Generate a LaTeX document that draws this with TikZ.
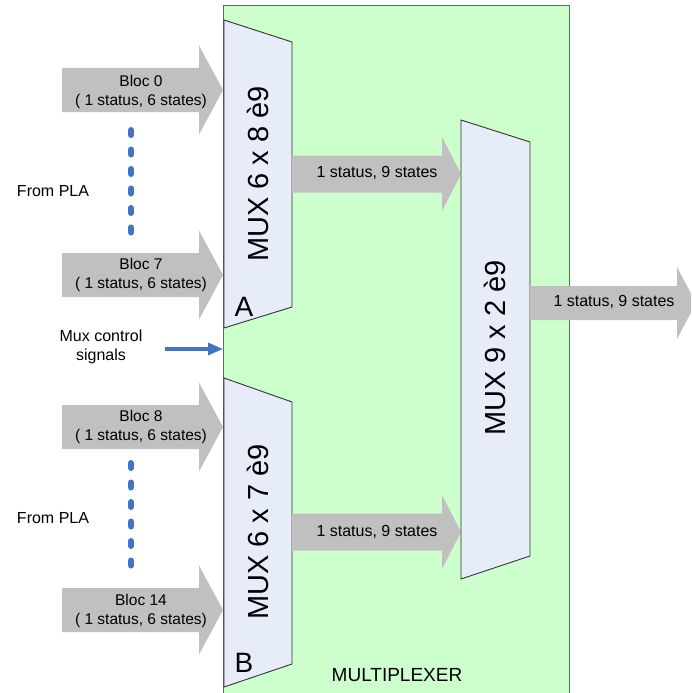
\documentclass[tikz,border=0pt]{standalone}
\usepackage{fontspec}
\setmainfont{Liberation Sans}
\usetikzlibrary{arrows.meta,calc}
\definecolor{plxgreen}{RGB}{204,255,204}
\definecolor{muxfill}{RGB}{230,236,248}
\definecolor{fatgray}{RGB}{192,192,192}
\definecolor{ctlblue}{RGB}{68,114,196}
% fat arrow: x start, x tip, y, body half, head half, head length
\newcommand{\fatarrow}[6]{%
  \fill[fatgray] (#1,#3-#4) -- (#2-#6,#3-#4) -- (#2-#6,#3-#5) -- (#2,#3)
    -- (#2-#6,#3+#5) -- (#2-#6,#3+#4) -- (#1,#3+#4) -- cycle;}
\tikzset{
  >=Stealth,
  mplxbox/.style={draw=black!60,fill=plxgreen,line width=0.9pt,inner sep=0pt},
  muxbox/.style={draw=black!80,fill=muxfill,line width=0.9pt},
  muxtext/.style={rotate=90,font=\fontsize{29}{32}\selectfont,inner sep=0pt},
  tagtext/.style={font=\fontsize{28}{30}\selectfont,inner sep=0pt},
  bloctext/.style={align=center,font=\fontsize{15.5}{19}\selectfont,inner sep=0pt},
  outtext/.style={font=\fontsize{16}{19}\selectfont,inner sep=0pt},
  sidetext/.style={align=center,font=\fontsize{16}{19}\selectfont,inner sep=0pt},
  bluedots/.style={ctlblue,line width=6pt,line cap=round,dash pattern=on 5pt off 14.5pt},
  ctlarrow/.style={ctlblue,line width=3.2pt,-{Triangle[length=15pt,width=12pt]}}
}
\begin{document}
\begin{tikzpicture}[x=1pt,y=-1pt]
\useasboundingbox (0,0) rectangle (691,693);
\clip (0,0) rectangle (691,693);
% multiplexer area
\node[mplxbox,anchor=north west,minimum width=346,minimum height=700](mplx) at (223,5) {};
\node[font=\fontsize{19}{22}\selectfont](plx) at (397,675) {MULTIPLEXER};
% input blocks
\fatarrow{62}{223}{90}{22}{44.5}{24}
\fatarrow{62}{223}{275}{22}{44.5}{24}
\fatarrow{62}{223}{427}{22}{44.5}{24}
\fatarrow{62}{223}{610}{22}{44.5}{24}
\node[bloctext](b0) at (141,91.5) {Bloc 0\\( 1 status, 6 states)};
\node[bloctext](b7) at (141,274.5) {Bloc 7\\( 1 status, 6 states)};
\node[bloctext](b8) at (141,427) {Bloc 8\\( 1 status, 6 states)};
\node[bloctext](b14) at (141,610.5) {Bloc 14\\( 1 status, 6 states)};
\draw[bluedots] (131,130) -- (131,234);
\draw[bluedots] (131,463) -- (131,570);
\node[sidetext](pla1) at (53,191) {From PLA};
\node[sidetext](pla2) at (53,518) {From PLA};
% mux control
\node[sidetext](ctl) at (101,347) {Mux control\\signals};
\coordinate (ctlstart) at (165,349);
\draw[ctlarrow] (ctlstart) -- (mplx.west |- ctlstart);
% first stage muxes
\draw[muxbox] (224,20) -- (292,42) -- (292,307) -- (224,328) -- cycle;
\draw[muxbox] (224,378) -- (292,402) -- (292,664) -- (224,687) -- cycle;
\node[muxtext](muxa) at (258,174) {MUX 6 x 8 è9};
\node[muxtext](muxb) at (258,532) {MUX 6 x 7 è9};
\node[tagtext](ta) at (244,307) {A};
\node[tagtext](tb) at (244,663) {B};
% stage outputs
\fatarrow{292}{461}{174}{18.5}{37}{19}
\fatarrow{292}{461}{532}{18.5}{37}{19}
\node[outtext](oa) at (377,173) {1 status, 9 states};
\node[outtext](ob) at (377,532) {1 status, 9 states};
% second stage mux
\draw[muxbox] (461,120) -- (530,142) -- (530,556) -- (461,579) -- cycle;
\node[muxtext](muxc) at (495,348) {MUX 9 x 2 è9};
\fatarrow{530}{696}{303}{17}{36}{19}
\node[outtext](oc) at (614,302) {1 status, 9 states};
\end{tikzpicture}
\end{document}
